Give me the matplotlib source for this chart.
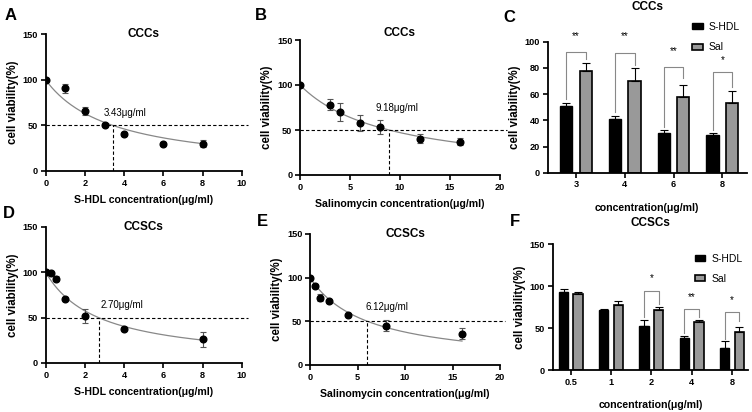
import matplotlib
matplotlib.use('Agg')
import matplotlib.pyplot as plt
import numpy as np

plt.rcParams['font.family'] = ['Liberation Sans', 'DejaVu Sans']

W, H = 752, 412

# dose-response data (panels A, B, D, E)
a_x = [0, 1, 2, 3, 4, 6, 8]
a_y = [100, 91, 66, 51, 41, 30, 30]
a_err = [0, 5, 4, 2, 2, 2, 4]

b_x = [0, 3, 4, 6, 8, 12, 16]
b_y = [100, 78, 70, 58, 53, 40, 37]
b_err = [0, 6, 10, 9, 8, 5, 4]

d_x = [0, 0.25, 0.5, 1, 2, 4, 8]
d_y = [100, 99, 93, 71, 52, 38, 26]
d_err = [0, 1, 3, 2, 8, 2, 8]

e_x = [0, 0.5, 1, 2, 4, 8, 16]
e_y = [100, 91, 77, 73, 57, 45, 36]
e_err = [0, 2, 4, 2, 1, 6, 6]

# fitted IC50 (where curve crosses 50%) and printed labels
ic_fit = [3.43, 8.9, 2.7, 6.05]
ic_text = ['3.43μg/ml', '9.18μg/ml', '2.70μg/ml', '6.12μg/ml']

# bar data (panels C, F)
c_cats = ['3', '4', '6', '8']
c_hdl = [51, 41, 30, 28.5]
c_hdl_err = [2.5, 2.5, 2.5, 1.5]
c_sal = [78, 70, 58, 53]
c_sal_err = [6, 10, 9, 9]
c_sig = ['**', '**', '**', '*']
c_br_top = [92, 91, 81, 76.5]
c_br_left = [56.5, 46.5, 35, 32.5]
c_br_right = [87, 82, 72, 65.5]
c_star_y = [104, 104, 93, 86]

f_cats = ['0.5', '1', '2', '4', '8']
f_hdl = [93, 71, 52, 38, 26]
f_hdl_err = [4, 2, 8, 2, 9]
f_sal = [91, 77, 72, 57, 45]
f_sal_err = [2, 5, 3, 2, 6]
f_sig = ['', '', '*', '**', '*']
f_br_top = [0, 0, 94, 72.5, 69.5]
f_br_left = [0, 0, 63.5, 43.5, 37]
f_br_right = [0, 0, 79, 63.5, 58]
f_star_y = [0, 0, 110, 87, 83]

fig = plt.figure(figsize=(W / 100, H / 100), dpi=100)


def add_ax(l, r, t, b):
    return fig.add_axes([l / W, 1 - b / H, (r - l) / W, (b - t) / H])


def style(ax):
    for s in ['top', 'right']:
        ax.spines[s].set_visible(False)
    for s in ['left', 'bottom']:
        ax.spines[s].set_linewidth(1.3)
    ax.tick_params(width=1.2, length=3.5, labelsize=6.6, pad=2)
    for lab in ax.get_xticklabels() + ax.get_yticklabels():
        lab.set_fontweight('bold')


def curve_panel(ax, x, y, err, ic, txt, xmax, xstep, xend, title, ty, lx, ly, xlab):
    xs = np.linspace(0, max(x), 200)
    ax.plot(xs, 100 / (1 + xs / ic), color='#888888', lw=0.9, zorder=2)
    ax.errorbar(x, y, yerr=err, fmt='o', color='black', ms=4.8,
                ecolor='#555555', elinewidth=0.8, capsize=2, capthick=0.8, zorder=3)
    ax.plot([0, xend], [50, 50], ls=(0, (3, 2)), color='black', lw=0.8, clip_on=False)
    ax.plot([ic, ic], [0, 50], ls=(0, (3, 2)), color='black', lw=0.8)
    ax.text(lx, ly, txt, ha='center', va='center', fontsize=7)
    ax.set_xlim(0, xmax)
    ax.set_ylim(0, 150)
    ax.set_xticks(np.arange(0, xmax + 0.01, xstep))
    ax.set_yticks([0, 50, 100, 150])
    ax.set_title(title, y=ty, va='center', pad=0, fontsize=8.5, fontweight='bold')
    ax.set_xlabel(xlab, fontsize=7.6, fontweight='bold', labelpad=5)
    ax.set_ylabel('cell viability(%)', fontsize=8.3, fontweight='bold', labelpad=3)
    style(ax)


def bar_panel(ax, cats, hdl, hdl_err, sal, sal_err, sig, top, left, right, sy,
              off, bw, xlim, ylim, yt, title, ty, leg_y):
    xs = np.arange(len(cats))
    n = len(cats)
    ax.bar(xs - off, hdl, bw, color='black', edgecolor='black', lw=1,
           yerr=[[0] * n, hdl_err], error_kw=dict(ecolor='black', elinewidth=0.8,
                                                   capsize=2.6, capthick=0.8), label='S-HDL')
    ax.bar(xs + off, sal, bw, color='#999999', edgecolor='black', lw=1.2,
           yerr=[[0] * n, sal_err], error_kw=dict(ecolor='black', elinewidth=0.8,
                                                   capsize=2.6, capthick=0.8), label='Sal')
    for i in range(n):
        if not sig[i]:
            continue
        ax.plot([xs[i] - off, xs[i] - off, xs[i] + off, xs[i] + off],
                [left[i], top[i], top[i], right[i]], color='#888888', lw=0.8, clip_on=False)
        ax.text(xs[i], sy[i], sig[i], ha='center', va='center', fontsize=7)
    ax.set_xlim(*xlim)
    ax.set_ylim(*ylim)
    ax.set_xticks(xs)
    ax.set_xticklabels(cats)
    ax.set_yticks(yt)
    ax.set_title(title, y=ty, va='center', pad=0, fontsize=8.5, fontweight='bold')
    ax.set_xlabel('concentration(μg/ml)', fontsize=7.6, fontweight='bold', labelpad=9.5)
    ax.set_ylabel('cell viability(%)', fontsize=8.3, fontweight='bold', labelpad=3)
    ax.legend(loc='upper left', bbox_to_anchor=(0.7, leg_y), frameon=False, fontsize=7.5,
              handlelength=1.0, handleheight=0.5, labelspacing=1.0, handletextpad=0.6,
              borderpad=0)
    style(ax)


axA = add_ax(45.7, 242, 34.5, 171)
curve_panel(axA, a_x, a_y, a_err, ic_fit[0], ic_text[0], 10, 2, 10.3, 'CCCs', 1.0,
            4.05, 64, 'S-HDL concentration(μg/ml)')
axB = add_ax(300, 500, 40, 175)
curve_panel(axB, b_x, b_y, b_err, ic_fit[1], ic_text[1], 20, 5, 20.7, 'CCCs', 1.052,
            9.7, 74, 'Salinomycin concentration(μg/ml)')
axD = add_ax(45.7, 242, 227, 363)
curve_panel(axD, d_x, d_y, d_err, ic_fit[2], ic_text[2], 10, 2, 10.3, 'CCSCs', 1.0,
            3.9, 64, 'S-HDL concentration(μg/ml)')
axE = add_ax(310, 500, 234, 365)
curve_panel(axE, e_x, e_y, e_err, ic_fit[3], ic_text[3], 20, 5, 20.5, 'CCSCs', 1.0,
            8.1, 66, 'Salinomycin concentration(μg/ml)')

axC = add_ax(547.7, 746.7, 41.7, 172.7)
bar_panel(axC, c_cats, c_hdl, c_hdl_err, c_sal, c_sal_err, c_sig, c_br_top, c_br_left,
          c_br_right, c_star_y, 0.2, 0.25, (-0.58, 3.5), (0, 100), [0, 20, 40, 60, 80, 100],
          'CCCs', 1.267, 1.19)
axF = add_ax(552.7, 748, 244, 370)
bar_panel(axF, f_cats, f_hdl, f_hdl_err, f_sal, f_sal_err, f_sig, f_br_top, f_br_left,
          f_br_right, f_star_y, 0.18, 0.23, (-0.45, 4.4), (0, 150), [0, 50, 100, 150],
          'CCSCs', 1.167, 0.965)

for lab, px, py in [('A', 5, 16), ('B', 255, 16), ('C', 503, 18),
                    ('D', 3, 213), ('E', 257, 222), ('F', 510, 222)]:
    fig.text(px / W, 1 - py / H, lab, ha='left', va='center', fontsize=12, fontweight='bold')

fig.savefig('out.png', dpi=100)
